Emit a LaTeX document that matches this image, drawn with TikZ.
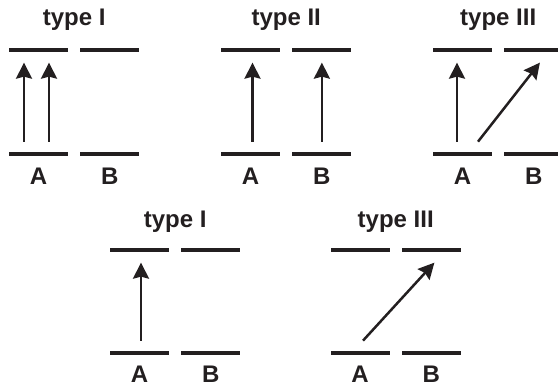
\documentclass[tikz,border=0pt]{standalone}
\usepackage{fontspec}
\setmainfont{Liberation Sans}
\usetikzlibrary{arrows.meta, positioning, calc}
\definecolor{ink}{HTML}{231F20}

\begin{document}
\begin{tikzpicture}[
    x=1pt, y=1pt,
    node distance=12pt,
    bar/.style={
        rectangle, fill=ink, inner sep=0pt,
        minimum width=59pt, minimum height=4.3pt
    },
    ttl/.style={font=\fontsize{24}{28}\selectfont\bfseries, text=ink, inner sep=0pt},
    lbl/.style={font=\fontsize{24}{28}\selectfont\bfseries, text=ink, inner sep=0pt},
    arr/.style={-{Stealth[length=16pt, width=16pt, inset=2pt]}, line width=2.5pt, draw=ink},
]
\useasboundingbox (0,0) rectangle (558,389);

%% ---- TOP LEFT: TYPE I ----
\node[bar] (loA1) at (38.5,235) {};
\node[bar, right=of loA1] (loB1) {};
\node[bar, above=99pt of loA1] (upA1) {};
\node[bar, above=99pt of loB1] (upB1) {};
\node[lbl, below=11pt of loA1] (labA1) {A};
\node[lbl, below=11pt of loB1] (labB1) {B};
\coordinate (mid1) at ($(upA1.north)!0.5!(upB1.north)$);
\node[ttl, above=17pt of mid1] (ttl1) {type I};

\draw[arr] ([xshift=-14.5pt, yshift=10pt]loA1.north) -- ([xshift=-14.5pt, yshift=-10pt]upA1.south);
\draw[arr] ([xshift=10.5pt, yshift=10pt]loA1.north) -- ([xshift=10.5pt, yshift=-10pt]upA1.south);

%% ---- TOP MIDDLE: TYPE II ----
\node[bar] (loA2) at (250.5,235) {};
\node[bar, right=of loA2] (loB2) {};
\node[bar, above=99pt of loA2] (upA2) {};
\node[bar, above=99pt of loB2] (upB2) {};
\node[lbl, below=11pt of loA2] (labA2) {A};
\node[lbl, below=11pt of loB2] (labB2) {B};
\coordinate (mid2) at ($(upA2.north)!0.5!(upB2.north)$);
\node[ttl, above=17pt of mid2] (ttl2) {type II};

\draw[arr] ([xshift=2pt, yshift=10pt]loA2.north) -- ([xshift=2pt, yshift=-10pt]upA2.south);
\draw[arr] ([yshift=10pt]loB2.north) -- ([yshift=-10pt]upB2.south);

%% ---- TOP RIGHT: TYPE III ----
\node[bar] (loA3) at (462.5,235) {};
\node[bar, right=of loA3] (loB3) {};
\node[bar, above=99pt of loA3] (upA3) {};
\node[bar, above=99pt of loB3] (upB3) {};
\node[lbl, below=11pt of loA3] (labA3) {A};
\node[lbl, below=11pt of loB3] (labB3) {B};
\coordinate (mid3) at ($(upA3.north)!0.5!(upB3.north)$);
\node[ttl, above=17pt of mid3] (ttl3) {type III};

\draw[arr] ([xshift=-5.5pt, yshift=10pt]loA3.north) -- ([xshift=-5.5pt, yshift=-10pt]upA3.south);
\draw[arr] ([xshift=15.5pt, yshift=10pt]loA3.north) -- ([xshift=6pt, yshift=-10pt]upB3.south);

%% ---- BOTTOM LEFT: TYPE I ----
\node[bar] (loA4) at (139.5,36) {};
\node[bar, right=of loA4] (loB4) {};
\node[bar, above=98pt of loA4] (upA4) {};
\node[bar, above=98pt of loB4] (upB4) {};
\node[lbl, below=10pt of loA4] (labA4) {A};
\node[lbl, below=10pt of loB4] (labB4) {B};
\coordinate (mid4) at ($(upA4.north)!0.5!(upB4.north)$);
\node[ttl, above=15pt of mid4] (ttl4) {type I};

\draw[arr] ([xshift=1.5pt, yshift=10pt]loA4.north) -- ([xshift=1.5pt, yshift=-10pt]upA4.south);

%% ---- BOTTOM RIGHT: TYPE III ----
\node[bar] (loA5) at (360,36) {};
\node[bar, right=of loA5] (loB5) {};
\node[bar, above=98pt of loA5] (upA5) {};
\node[bar, above=98pt of loB5] (upB5) {};
\node[lbl, below=10pt of loA5] (labA5) {A};
\node[lbl, below=10pt of loB5] (labB5) {B};
\coordinate (mid5) at ($(upA5.north)!0.5!(upB5.north)$);
\node[ttl, above=15pt of mid5] (ttl5) {type III};

\draw[arr] ([xshift=3pt, yshift=10pt]loA5.north) -- ([xshift=3pt, yshift=-10pt]upB5.south);

\end{tikzpicture}
\end{document}
